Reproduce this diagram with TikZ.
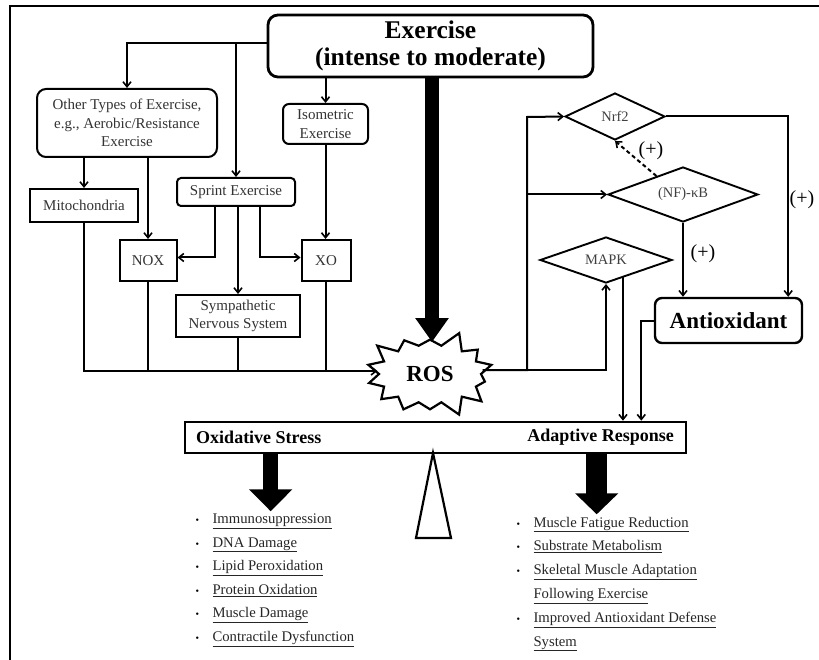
\documentclass[tikz,border=0pt]{standalone}
\usepackage{fontspec}
\setmainfont{Liberation Serif}
\usetikzlibrary{arrows.meta,shapes.geometric,shapes.symbols,calc}
\begin{document}
\begin{tikzpicture}[x=1pt,y=-1pt,
  arr/.style={draw, line width=2pt, -{Straight Barb[length=5pt,width=8pt,line width=1.6pt]}},
  ln/.style={draw, line width=2pt},
  sq/.style={draw, line width=2pt, inner sep=0pt, align=center, text=black!80,
             font=\fontsize{15}{18.5}\selectfont},
  rbox/.style={sq, rounded corners=6pt},
  dia/.style={draw, diamond, aspect=2.7, line width=1.9pt, inner sep=0pt, text=black!75,
              font=\fontsize{14.5}{16}\selectfont},
  plus/.style={font=\fontsize{20}{22}\selectfont},
  item/.style={anchor=base west, font=\fontsize{14.7}{17}\selectfont, text=black!85},
  bul/.style={anchor=base west, font=\fontsize{10}{11}\selectfont},
  big/.style={draw, line width=14pt, -{Triangle[length=24pt,width=32pt]}},
]
\useasboundingbox (0,0) rectangle (819,660);
\draw[line width=2.5pt] (10,660) -- (10,6) -- (819,6);

% boxes
\node[rbox, line width=2.8pt, rounded corners=10pt, minimum width=325pt, minimum height=62pt,
      font=\bfseries\fontsize{25.5}{27}\selectfont, text=black] (ex) at (430.5,46)
      {Exercise\\(intense to moderate)};
\node[rbox, rounded corners=9pt, minimum width=180pt, minimum height=68pt] (other) at (127,123)
      {Other Types of Exercise,\\e.g., Aerobic/Resistance\\Exercise};
\node[rbox, minimum width=85pt, minimum height=40pt] (iso) at (325.5,124) {Isometric\\Exercise};
\node[sq, minimum width=108pt, minimum height=33pt] (mito) at (84,205.5) {Mitochondria};
\node[rbox, rounded corners=4pt, minimum width=118pt, minimum height=28pt] (sprint) at (236,192) {Sprint Exercise};
\node[sq, minimum width=57pt, minimum height=41pt] (nox) at (148,260.5) {NOX};
\node[sq, minimum width=49pt, minimum height=41pt] (xo) at (326,260.5) {XO};
\node[sq, minimum width=124pt, minimum height=42pt] (symp) at (238,316) {Sympathetic\\Nervous System};
\node[draw, starburst, starburst points=14, starburst point height=17pt, random starburst=3,
      minimum width=136pt, minimum height=92pt, line width=2.2pt, inner sep=0pt,
      font=\bfseries\fontsize{23}{26}\selectfont] (ros) at (430,374) {ROS};
\node[dia, minimum width=100pt, minimum height=47pt] (nrf2) at (615,116.5) {Nrf2};
\node[dia, minimum width=150pt, minimum height=55pt] (nfkb) at (683,194.5) {(NF)-κB};
\node[dia, minimum width=132pt, minimum height=46pt] (mapk) at (606,260) {MAPK};
\node[rbox, line width=2.4pt, rounded corners=7pt, minimum width=147pt, minimum height=45pt,
      font=\bfseries\fontsize{23}{26}\selectfont, text=black] (anti) at (728.5,320.5) {Antioxidant};
\node[draw, line width=2.6pt, minimum width=501pt, minimum height=31pt, inner sep=0pt] (bar) at (435.5,437.5) {};
\node[anchor=west, font=\bfseries\fontsize{18}{20}\selectfont] (os) at ($(bar.west)+(9,0)$) {Oxidative Stress};
\node[anchor=east, font=\bfseries\fontsize{18}{20}\selectfont] (ar) at ($(bar.east)+(-10,0)$) {Adaptive Response};
\draw[line width=2.2pt, line join=miter] (433,453) -- (451,538) -- (416,538) -- cycle;

% exercise branches
\coordinate (j1) at (236,43);
\draw[arr] ([yshift=3pt]ex.west) -| (other.north);
\draw[arr] (j1) -- (sprint.north);
\draw[arr] (ex.south -| iso.north) -- (iso.north);
\draw[arr] (other.south -| mito.north) -- (mito.north);
\draw[arr] (other.south -| nox.north) -- (nox.north);
\draw[arr] (iso.south) -- (iso.south |- xo.north);
\draw[arr] ([xshift=-21pt]sprint.south) |- ([yshift=3pt]nox.east);
\draw[arr] ([xshift=24pt]sprint.south) |- ([yshift=3pt]xo.west);
\draw[arr] (sprint.south -| symp.north) -- (symp.north);

% to ROS
\coordinate (bus) at (84,371);
\draw[arr] (mito.south) -- (bus) -- (bus -| ros.west);
\draw[ln] (nox.south) -- (nox.south |- bus);
\draw[ln] (symp.south) -- (symp.south |- bus);
\draw[ln] (xo.south) -- (xo.south |- bus);
\draw[big] (ex.south -| 432,0) -- (432,342);

% ROS outputs
\coordinate (vr) at (527,117);
\draw[arr] ([yshift=4pt]ros.east) -| (vr) -- (nrf2.west);
\draw[arr] (vr |- nfkb.west) -- (nfkb.west);
\draw[arr] ([yshift=4pt]ros.east) -| (mapk.south);
\draw[arr, dash pattern=on 4pt off 3pt] ($(nfkb.north)!0.35!(nfkb.west)$) -- (nrf2.south);
\node[plus] (p1) at (651,151) {(+)};
\draw[arr] (nrf2.east) -| ($(anti.north east)+(-15,0)$);
\node[plus] (p2) at (802,200) {(+)};
\draw[arr] (nfkb.south) -- (nfkb.south |- anti.north);
\node[plus] (p3) at (703,254) {(+)};
\coordinate (mk) at (623,277);
\draw[arr] (mk) -- (mk |- bar.north);
\draw[arr] (anti.west) -| ($(bar.north east)+(-46,0)$);

% balance outputs
\draw[draw, line width=15pt, -{Triangle[length=22pt,width=42pt]}] ($(bar.south west)+(87,0)$) -- ++(0,57);
\draw[draw, line width=21pt, -{Triangle[length=21pt,width=42pt]}] ($(bar.south west)+(413,0)$) -- ++(0,60);

% left list
\foreach \t [count=\i] in {Immunosuppression, DNA Damage, Lipid Peroxidation, Protein Oxidation, Muscle Damage, Contractile Dysfunction}{
  \node[bul] (lb\i) at (192,{523.5+23.6*(\i-1)}) {•};
  \node[item] (li\i) at (209,{523.5+23.6*(\i-1)}) {\underline{\t}};
}
% right list
\node[bul] (rb1) at (513,527) {•};
\node[item] (ri1) at (530,527) {\underline{Muscle Fatigue Reduction}};
\node[bul] (rb2) at (513,550.8) {•};
\node[item] (ri2) at (530,550.8) {\underline{Substrate Metabolism}};
\node[bul] (rb3) at (513,574.6) {•};
\node[item] (ri3) at (530,574.6) {\underline{Skeletal Muscle Adaptation}};
\node[item] (ri3b) at (530,598.4) {\underline{Following Exercise}};
\node[bul] (rb4) at (513,622.2) {•};
\node[item] (ri4) at (530,622.2) {\underline{Improved Antioxidant Defense}};
\node[item] (ri4b) at (530,646) {\underline{System}};
\end{tikzpicture}
\end{document}
